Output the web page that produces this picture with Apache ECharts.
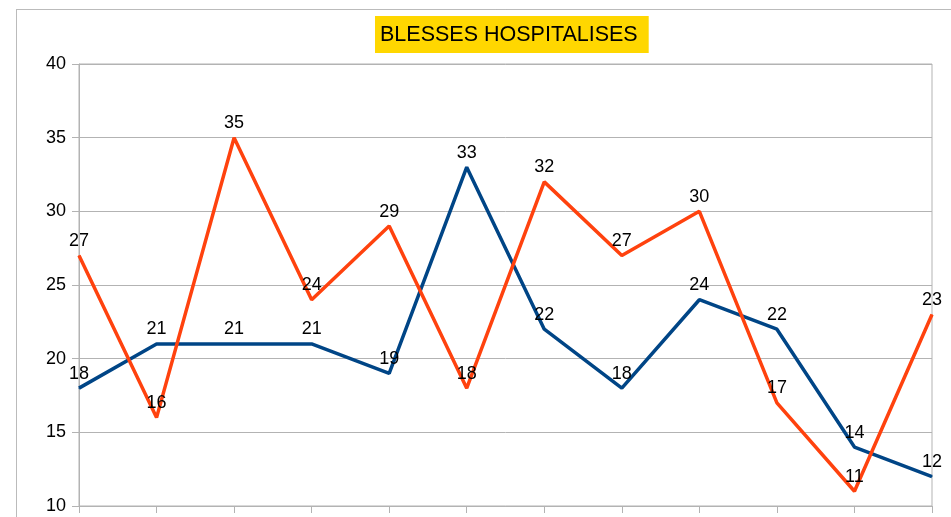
<!DOCTYPE html>
<html>
<head>
<meta charset="utf-8">
<script src="https://cdn.jsdelivr.net/npm/echarts@6/dist/echarts.min.js"></script>
<style>
  html, body { margin: 0; padding: 0; background: #fff; }
  #chart { width: 951px; height: 517px; }
</style>
</head>
<body>
<div id="chart"></div>
<script>
// 数据
const categories = ["1", "2", "3", "4", "5", "6", "7", "8", "9", "10", "11", "12"];
const blueValues = [18, 21, 21, 21, 19, 33, 22, 18, 24, 22, 14, 12];
const orangeValues = [27, 16, 35, 24, 29, 18, 32, 27, 30, 17, 11, 23];

const myChart = echarts.init(document.querySelector("#chart"));

const labelStyle = {
  show: true,
  position: "top",
  distance: 5,
  color: "#000",
  fontSize: 18,
  fontFamily: "Liberation Sans",
};

const option = {
  animation: false,
  textStyle: { fontFamily: "Liberation Sans" },
  title: {
    text: "BLESSES HOSPITALISES",
    left: 375,
    top: 16,
    backgroundColor: "#ffd700",
    padding: [8, 11, 7, 5],
    textStyle: {
      fontSize: 21.5,
      fontWeight: "normal",
      color: "#000",
      fontFamily: "Liberation Sans",
    },
  },
  // 虚线外框
  graphic: [
    {
      type: "rect",
      shape: { x: 16.5, y: 9.5, width: 960, height: 540 },
      style: { fill: "none", stroke: "#777", lineWidth: 1, lineDash: [1, 1] },
    },
  ],
  grid: {
    left: 79,
    right: 19,
    top: 64,
    bottom: 11,
    show: true,
    borderColor: "#b3b3b3",
    borderWidth: 1,
  },
  xAxis: {
    type: "category",
    boundaryGap: false,
    data: categories,
    axisLine: { lineStyle: { color: "#b3b3b3" } },
    axisTick: { show: true, length: 7, alignWithLabel: true, lineStyle: { color: "#b3b3b3" } },
    axisLabel: { show: false },
    splitLine: { show: false },
  },
  yAxis: {
    type: "value",
    min: 10,
    max: 40,
    interval: 5,
    axisLine: { show: true, lineStyle: { color: "#b3b3b3" } },
    axisTick: { show: true, length: 7, lineStyle: { color: "#b3b3b3" } },
    axisLabel: { color: "#000", fontSize: 18, margin: 13 },
    splitLine: { lineStyle: { color: "#b3b3b3" } },
  },
  series: [
    {
      type: "line",
      data: blueValues,
      symbol: "circle",
      symbolSize: 1,
      itemStyle: { color: "#004586" },
      lineStyle: { color: "#004586", width: 3.5 },
      label: labelStyle,
      z: 3,
    },
    {
      type: "line",
      data: orangeValues,
      symbol: "circle",
      symbolSize: 1,
      itemStyle: { color: "#ff420e" },
      lineStyle: { color: "#ff420e", width: 3.5 },
      label: labelStyle,
      z: 4,
    },
  ],
};

myChart.setOption(option);
</script>
</body>
</html>
